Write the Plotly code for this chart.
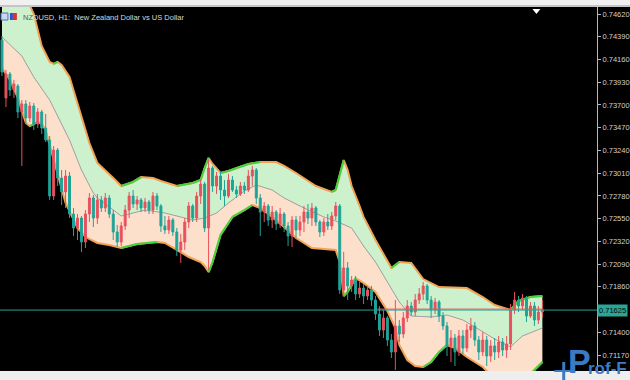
import plotly.graph_objects as go

# ---- candle data, in points (1 point = 0.00001) ----
open_pts = [74357,73771,74013,73851,73892,73629,73710,73568,73690,73507,73629,73467,73346,72779,73244,72961,
            72820,72981,72597,72455,72556,72314,72597,72759,72556,72739,72658,72759,72597,72415,72314,72476,
            72637,72779,72698,72739,72658,72718,72637,72779,72678,72476,72435,72536,72415,72233,72314,72516,
            72678,72556,72779,72900,72455,73062,72880,72981,72840,72779,72941,72840,72799,72880,72840,72981,
            73042,72759,72617,72678,72536,72617,72496,72597,72476,72374,72536,72435,72516,72617,72556,72658,
            72516,72415,72516,72476,72577,72678,71828,72051,71869,71929,71788,71848,71767,71828,71727,71585,
            71423,71545,71322,71201,71464,71383,71545,71666,71605,71727,71788,71869,71727,71626,71707,71565,
            71464,71262,71342,71201,71363,71241,71423,71464,71322,71201,71322,71160,71262,71201,71302,71221,
            71282,71626,71727,71666,71747,71565,71666,71525,71605]
high_pts = [74398,74054,74034,73953,73912,73750,73750,73730,73720,73669,73649,73609,73386,73285,73265,73042,
            73042,73022,72658,72597,72577,72637,72809,72789,72799,72779,72809,72789,72637,72486,72516,72688,
            72820,72840,72779,72759,72759,72739,72820,72809,72698,72577,72577,72556,72455,72395,72556,72718,
            72698,72820,72941,72921,73143,73083,73022,73022,72941,73002,72981,72880,72921,72921,73042,73083,
            73062,72799,72718,72698,72678,72637,72658,72617,72516,72577,72577,72577,72678,72698,72708,72678,
            72536,72556,72597,72617,72718,72698,72213,72111,71970,71970,71909,71889,71869,71869,71767,71666,
            71626,71565,71383,71727,71525,71605,71727,71707,71788,71848,71909,71889,71767,71747,71727,71605,
            71504,71423,71383,71423,71423,71484,71545,71504,71363,71403,71363,71322,71342,71363,71342,71363,
            71686,71808,71767,71788,71767,71707,71707,71666,71727]
low_pts = [73993,73679,73791,73771,73568,73083,73507,73528,73447,73467,73406,73325,72739,72739,72880,72688,
           72658,72556,72374,72334,72213,72253,72516,72465,72496,72617,72617,72556,72334,72263,72273,72435,
           72556,72658,72637,72617,72617,72597,72597,72637,72415,72395,72395,72374,72172,72101,72233,72455,
           72516,72516,72698,72415,72030,72820,72799,72739,72678,72759,72820,72759,72779,72799,72820,72880,
           72698,72374,72516,72476,72455,72435,72455,72415,72273,72263,72354,72374,72415,72496,72476,72476,
           72364,72374,72435,72435,72536,71788,71767,71727,71808,71727,71747,71686,71727,71666,71525,71363,
           71342,71262,71140,71019,71302,71342,71504,71565,71565,71686,71727,71686,71545,71585,71504,71423,
           71160,71100,71059,71160,71181,71201,71342,71262,71120,71160,71059,71100,71120,71140,71160,71140,
           71221,71585,71605,71626,71504,71545,71464,71484,71545]
close_pts = [74034,74013,73851,73912,73629,73710,73568,73690,73507,73629,73467,73346,72779,73244,72961,72820,
             72981,72597,72455,72556,72314,72597,72759,72556,72739,72658,72759,72597,72415,72314,72476,72637,
             72779,72698,72739,72658,72718,72637,72779,72678,72476,72435,72536,72415,72233,72314,72516,72678,
             72556,72779,72900,72455,73062,72880,72981,72840,72779,72941,72840,72799,72880,72840,72981,73042,
             72759,72617,72678,72536,72617,72496,72597,72476,72374,72536,72435,72516,72617,72556,72658,72516,
             72415,72516,72476,72577,72678,71828,72051,71869,71929,71788,71848,71767,71828,71727,71585,71423,
             71545,71322,71201,71464,71383,71545,71666,71605,71727,71788,71869,71727,71626,71707,71565,71464,
             71262,71342,71201,71363,71241,71423,71464,71322,71201,71322,71160,71262,71201,71302,71221,71282,
             71626,71727,71666,71747,71565,71666,71525,71605,71625]

# ---- band indicator (candle index, points) ----
upper_x = [0,4,8,10,12,13,14,15,17,19,22,24,26,28,30,33,35,38,40,44,48,50,51,52,53,55,57,59,62,65,69,71,74,
           79,83,84,85,86,87,88,90,91,94,97,98,100,103,106,110,117,121,124,128,130,133,136]
upper_pts = [75167,74964,74620,74297,74135,74115,74135,74104,73983,73720,73315,73113,73042,72961,72880,72921,
             72971,72961,72931,72880,72911,72941,73062,73164,73103,73012,73032,73062,73103,73123,73123,73083,
             73012,72880,72820,72840,72992,73143,73042,72880,72678,72567,72334,72111,72051,72111,72101,71939,
             71858,71848,71757,71676,71626,71717,71757,71767]
mid_x = [0,2,5,8,12,17,20,23,24,27,30,33,36,41,44,48,51,54,57,61,64,68,71,76,81,84,88,91,94,97,100,103,108,
         112,116,119,124,128,129,131,136]
mid_pts = [74388,74307,74195,73983,73750,73346,73042,72809,72759,72668,72577,72607,72637,72607,72577,72536,
           72556,72607,72708,72830,72890,72840,72759,72658,72567,72526,72455,72273,72111,71909,71707,71565,
           71555,71575,71525,71454,71332,71251,71292,71363,71444]
lower_x = [0,2,4,6,7,8,9,10,11,12,14,16,19,21,24,27,30,34,39,41,44,47,50,51,52,53,55,58,61,63,65,68,71,74,
           78,84,85,86,87,89,91,94,97,99,100,102,104,106,108,110,112,114,117,121,123,126,132,134,136]
lower_pts = [74074,73953,73771,73518,73487,73507,73528,73507,73447,73295,72992,72708,72455,72364,72304,72283,
             72253,72293,72314,72304,72233,72162,72111,72071,72010,72111,72385,72567,72637,72688,72658,72567,
             72465,72354,72253,72233,72111,71767,71808,71949,71899,71808,71616,71444,71272,71120,71059,71049,
             71100,71201,71272,71241,71150,71049,70968,70918,70938,71019,71100]

tick_vals = [0.74620,0.74390,0.74160,0.73930,0.73700,0.73470,0.73240,0.73010,0.72780,0.72550,0.72320,
             0.72090,0.71860,0.71400,0.71170]
last_price = 0.71625
ask_price = 0.71635

P = lambda arr: [v / 100000 for v in arr]
idx = list(range(len(close_pts)))

RED = '#e8505e'
TEAL = '#1fa397'
ORANGE = '#f2a254'
GREEN = '#3ed43e'
W, H = 630, 380
L, R, T, B = 0, 29, 7, 9
PW, PH = W - L - R, H - T - B


def px(xp):
    return (xp - L) / PW


def py(yp):
    return (H - B - yp) / PH


fig = go.Figure()

# fills
fig.add_trace(go.Scatter(x=upper_x + mid_x[::-1], y=P(upper_pts) + P(mid_pts)[::-1], fill='toself',
                         fillcolor='#cdf1cd', mode='lines', line=dict(color='rgba(0,0,0,0)', width=0),
                         hoverinfo='skip'))
fig.add_trace(go.Scatter(x=mid_x + lower_x[::-1], y=P(mid_pts) + P(lower_pts)[::-1], fill='toself',
                         fillcolor='#fde0cc', mode='lines', line=dict(color='rgba(0,0,0,0)', width=0),
                         hoverinfo='skip'))
# middle line
fig.add_trace(go.Scatter(x=mid_x, y=P(mid_pts), mode='lines', line=dict(color='#a8a8a8', width=1),
                         hoverinfo='skip'))


def edge(xs, vals):
    fig.add_trace(go.Scatter(x=xs, y=P(vals), mode='lines', line=dict(color=ORANGE, width=2),
                             hoverinfo='skip'))
    gx, gy = [], []
    for k in range(len(vals) - 1):
        if vals[k + 1] > vals[k]:
            gx += [xs[k], xs[k + 1], None]
            gy += [vals[k] / 1e5, vals[k + 1] / 1e5, None]
    fig.add_trace(go.Scatter(x=gx, y=gy, mode='lines', line=dict(color=GREEN, width=2),
                             hoverinfo='skip'))


edge(upper_x, upper_pts)
edge(lower_x, lower_pts)

# candles on an overlaying axis pair so they draw above the band fills
fig.add_trace(go.Candlestick(x=idx, open=P(open_pts), high=P(high_pts), low=P(low_pts), close=P(close_pts),
                             increasing=dict(line=dict(color=RED, width=1), fillcolor=RED),
                             decreasing=dict(line=dict(color=TEAL, width=1), fillcolor=TEAL),
                             whiskerwidth=0, hoverinfo='skip', xaxis='x2', yaxis='y2'))

ymin = 0.74762 - 0.00010117 * (H - B)
ymax = 0.74762 - 0.00010117 * T
xr = [-0.5, (PW - 2) / 4]

shapes = [
    dict(type='rect', xref='paper', yref='paper', x0=-0.01, x1=1.1, y0=1, y1=py(-2),
         fillcolor='#f0f0f0', line=dict(width=0), layer='above'),
    dict(type='line', xref='paper', yref='paper', x0=-0.01, x1=1.1, y0=py(6), y1=py(6),
         line=dict(color='#9a9a9a', width=1), layer='above'),
    dict(type='rect', xref='paper', yref='paper', x0=-0.01, x1=1.1, y0=py(H + 2), y1=0,
         fillcolor='#eeeeee', line=dict(width=0), layer='above'),
    dict(type='line', xref='paper', yref='y', x0=0, x1=1, y0=last_price, y1=last_price,
         line=dict(color='#25a596', width=1), layer='above'),
    dict(type='line', xref='x', yref='y', x0=94.5, x1=136.3, y0=ask_price, y1=ask_price,
         line=dict(color='#e05a5a', width=1), layer='above'),
    dict(type='path', xref='paper', yref='paper',
         path=f'M {px(536)} {py(9)} L {px(544)} {py(9)} L {px(540)} {py(14)} Z',
         fillcolor='white', line=dict(width=0), layer='above'),
    dict(type='rect', xref='paper', yref='paper', x0=px(1), x1=px(8), y0=py(20), y1=py(13),
         fillcolor='#c8d8f0', line=dict(color='#5070c0', width=1), layer='above'),
    dict(type='rect', xref='paper', yref='paper', x0=px(10), x1=px(13), y0=py(20), y1=py(13),
         fillcolor='#3050d0', line=dict(width=0), layer='above'),
    dict(type='rect', xref='paper', yref='paper', x0=px(13), x1=px(17), y0=py(20), y1=py(13),
         fillcolor='#e03030', line=dict(width=0), layer='above'),
    dict(type='rect', xref='paper', yref='paper', x0=px(566), x1=px(569), y0=py(380), y1=py(362),
         fillcolor='#3a7cc4', line=dict(width=0), layer='above'),
    dict(type='line', xref='paper', yref='paper', x0=px(558), x1=px(575), y0=py(371), y1=py(371),
         line=dict(color='#3a7cc4', width=2), layer='above'),
]

annotations = [
    dict(xref='paper', yref='paper', x=px(21), y=py(17), xanchor='left', yanchor='middle', showarrow=False,
         text='<span style="color:#5a5a5a">NZ</span>DUSD, H1:  New Zealand Dollar vs US Dollar',
         font=dict(family='Liberation Sans', size=7.5, color='#d8d8d8')),
    dict(xref='paper', yref='y', x=1.0, y=last_price, xanchor='left', yanchor='middle', showarrow=False,
         text=f'{last_price:.5f}', bgcolor='#2aa596', borderpad=1,
         font=dict(family='Liberation Sans', size=7.5, color='#0a0a0a')),
    dict(xref='paper', yref='paper', x=px(570), y=py(361), xanchor='left', yanchor='middle', showarrow=False,
         text='<b>P</b>', font=dict(family='Liberation Sans', size=34, color='#3a7cc4')),
    dict(xref='paper', yref='paper', x=px(590), y=py(368), xanchor='left', yanchor='middle', showarrow=False,
         text='<b>rof-F</b>', font=dict(family='Liberation Sans', size=17, color='#3a7cc4')),
]

fig.update_layout(
    width=W, height=H, margin=dict(l=L, r=R, t=T, b=B),
    paper_bgcolor='black', plot_bgcolor='black', showlegend=False,
    xaxis=dict(range=xr, visible=False, rangeslider=dict(visible=False)),
    xaxis2=dict(range=xr, visible=False, overlaying='x', rangeslider=dict(visible=False)),
    yaxis=dict(side='right', range=[ymin, ymax], tickvals=tick_vals,
               ticktext=[f'{v:.5f}' for v in tick_vals], ticks='outside', ticklen=3,
               tickcolor='#b8b8b8', showgrid=False, zeroline=False, showline=True,
               linecolor='#b8b8b8', linewidth=1,
               tickfont=dict(family='Liberation Sans', size=7.5, color='#d0d0d0')),
    yaxis2=dict(range=[ymin, ymax], visible=False, overlaying='y', side='right'),
    shapes=shapes, annotations=annotations,
)

fig.write_html('out.html')
